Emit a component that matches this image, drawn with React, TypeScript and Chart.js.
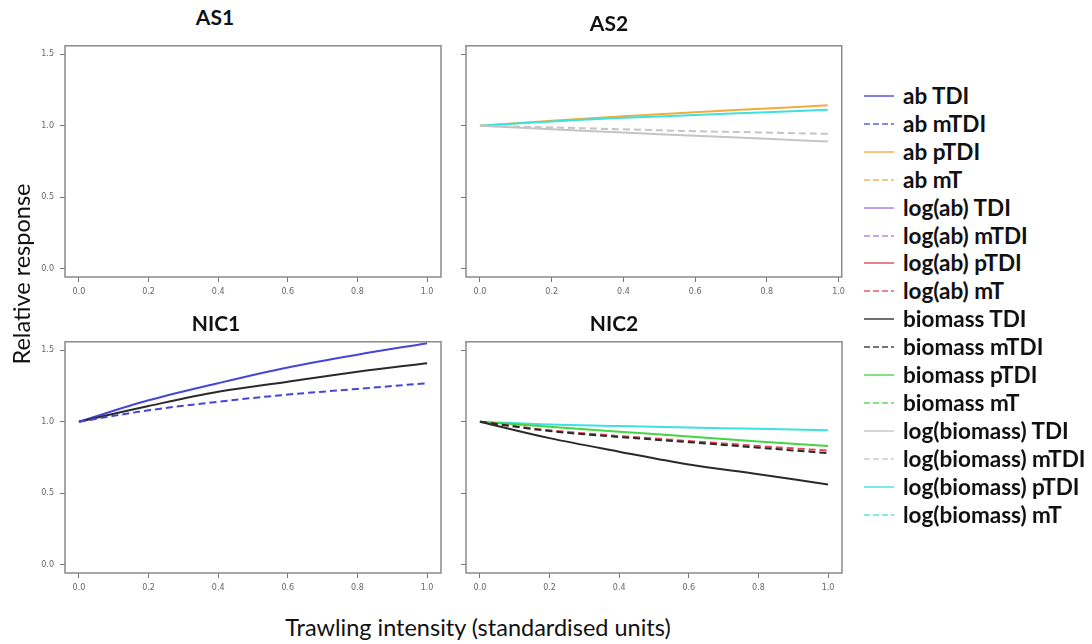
import React, { useEffect, useRef } from "react";
import { Chart, registerables } from "chart.js";
Chart.register(...registerables);

// ---------- data ----------
const xTickValues = [0, 0.2, 0.4, 0.6, 0.8, 1.0];
const yTickValues = [0, 0.5, 1.0, 1.5];

const nicX = [0, 0.2, 0.4, 0.6, 0.8, 1.0];
const as2X = [0, 0.2, 0.4, 0.6, 0.8, 0.97];

// AS2
const as2AbPTDI = [1.0, 1.035, 1.066, 1.095, 1.12, 1.143];
const as2LogBioPTDI = [1.0, 1.03, 1.055, 1.075, 1.095, 1.112];
const as2LogBioMTDI = [1.0, 0.988, 0.975, 0.962, 0.952, 0.943];
const as2LogBioTDI = [1.0, 0.975, 0.952, 0.93, 0.908, 0.889];

// NIC1
const nic1AbTDI = [1.0, 1.15, 1.27, 1.38, 1.47, 1.55];
const nic1BioTDI = [1.0, 1.11, 1.21, 1.28, 1.35, 1.41];
const nic1AbMTDI = [1.0, 1.08, 1.14, 1.19, 1.23, 1.27];

// NIC2
const nic2LogBioPTDI = [1.0, 0.98, 0.97, 0.959, 0.95, 0.94];
const nic2BioPTDI = [1.0, 0.965, 0.93, 0.897, 0.862, 0.83];
const nic2LogAbMT = [1.0, 0.94, 0.9, 0.865, 0.83, 0.797];
const nic2BioMTDI = [1.0, 0.935, 0.893, 0.857, 0.818, 0.78];
const nic2BioTDI = [1.0, 0.885, 0.79, 0.7, 0.632, 0.56];

const legendLabels = [
  "ab TDI", "ab mTDI", "ab pTDI", "ab mT",
  "log(ab) TDI", "log(ab) mTDI", "log(ab) pTDI", "log(ab) mT",
  "biomass TDI", "biomass mTDI", "biomass pTDI", "biomass mT",
  "log(biomass) TDI", "log(biomass) mTDI", "log(biomass) pTDI", "log(biomass) mT",
];

// ---------- styles ----------
const C_AB = "#4545d8";
const C_ABP = "#f0ad3c";
const C_LAB = "#a874dc";
const C_LABP = "#e04654";
const C_BIO = "#2a2a2a";
const C_BIOP = "#44d444";
const C_LBIO = "#c4c4c4";
const C_LBIOP = "#3ee0e0";
const legendColors = [C_AB, C_AB, C_ABP, C_ABP, C_LAB, C_LAB, C_LABP, C_LABP, C_BIO, C_BIO, C_BIOP, C_BIOP, C_LBIO, C_LBIO, C_LBIOP, C_LBIOP];
const DASH = [7, 4];

function pts(xs: number[], ys: number[]) {
  return xs.map((x, i) => ({ x, y: ys[i] }));
}

function ds(xs: number[], ys: number[], color: string, dashed: boolean) {
  return {
    data: pts(xs, ys),
    borderColor: color,
    borderWidth: 2,
    borderDash: dashed ? DASH : [],
    pointRadius: 0,
    tension: 0.35,
    fill: false,
  };
}

const boxPlugin = {
  id: "boxPlugin",
  afterDraw(chart: any) {
    const { ctx, chartArea } = chart;
    ctx.save();
    ctx.strokeStyle = "#8a8a8a";
    ctx.lineWidth = 1.5;
    ctx.strokeRect(chartArea.left, chartArea.top, chartArea.right - chartArea.left, chartArea.bottom - chartArea.top);
    ctx.restore();
  },
};

const Y_W = 40;
const X_H = 30;
const PAD_T = 6;
const PAD_R = 8;

type PanelProps = {
  box: [number, number, number, number];
  datasets: any[];
  xMin: number;
  xMax: number;
  showYLabels: boolean;
};

function Panel({ box, datasets, xMin, xMax, showYLabels }: PanelProps) {
  const ref = useRef<HTMLCanvasElement>(null);
  const [bl, bt, bw, bh] = box;
  const cw = bw + Y_W + PAD_R;
  const ch = bh + PAD_T + X_H;
  useEffect(() => {
    const tickFont = { family: "'DejaVu Sans', sans-serif", size: 8 };
    const chart = new Chart(ref.current as HTMLCanvasElement, {
      type: "line",
      data: { datasets },
      options: {
        animation: false,
        responsive: false,
        maintainAspectRatio: false,
        layout: { padding: { top: PAD_T, right: PAD_R, left: 0, bottom: 0 } },
        plugins: { legend: { display: false }, title: { display: false }, tooltip: { enabled: false } },
        scales: {
          x: {
            type: "linear",
            min: xMin,
            max: xMax,
            afterBuildTicks: (s: any) => { s.ticks = xTickValues.map((v) => ({ value: v })); },
            afterFit: (s: any) => { s.height = X_H; },
            ticks: { font: tickFont, color: "#666", padding: 5, maxRotation: 0, callback: (v: any) => Number(v).toFixed(1) },
            grid: { drawOnChartArea: false, drawTicks: true, tickLength: 5, color: "#777", lineWidth: 1 },
            border: { display: false },
          },
          y: {
            type: "linear",
            min: -0.06,
            max: 1.56,
            afterBuildTicks: (s: any) => { s.ticks = yTickValues.map((v) => ({ value: v })); },
            afterFit: (s: any) => { s.width = Y_W; },
            ticks: { font: tickFont, color: showYLabels ? "#666" : "rgba(0,0,0,0)", padding: 6, callback: (v: any) => Number(v).toFixed(1) },
            grid: { drawOnChartArea: false, drawTicks: true, tickLength: 5, color: "#777", lineWidth: 1 },
            border: { display: false },
          },
        },
      } as any,
      plugins: [boxPlugin],
    });
    return () => chart.destroy();
  }, []);
  return (
    <canvas
      ref={ref}
      width={cw}
      height={ch}
      style={{ position: "absolute", left: bl - Y_W, top: bt - PAD_T, width: cw, height: ch }}
    />
  );
}

const titleStyle = (cx: number, cy: number): React.CSSProperties => ({
  position: "absolute",
  left: cx - 60,
  top: cy - 14,
  width: 120,
  textAlign: "center",
  font: "bold 21px Lato, 'Open Sans', sans-serif",
  color: "#111",
  lineHeight: "28px",
});

export default function App() {
  const as2Sets = [
    ds(as2X, as2LogBioTDI, C_LBIO, false),
    ds(as2X, as2LogBioMTDI, C_LBIO, true),
    ds(as2X, as2LogBioPTDI, C_LBIOP, false),
    ds(as2X, as2AbPTDI, C_ABP, false),
  ];
  const nic1Sets = [
    ds(nicX, nic1AbMTDI, C_AB, true),
    ds(nicX, nic1BioTDI, C_BIO, false),
    ds(nicX, nic1AbTDI, C_AB, false),
  ];
  const nic2Sets = [
    ds(nicX, nic2BioTDI, C_BIO, false),
    ds(nicX, nic2BioMTDI, C_BIO, true),
    ds(nicX, nic2LogAbMT, C_LABP, true),
    ds(nicX, nic2BioPTDI, C_BIOP, false),
    ds(nicX, nic2LogBioPTDI, C_LBIOP, false),
  ];
  const as2Max = 0.97 * 1.04;
  const as2Min = -0.97 * 0.04;
  return (
    <div style={{ position: "fixed", left: 0, top: 0, width: 1092, height: 644, background: "#fff", overflow: "hidden" }}>
      <Panel box={[65, 41, 376, 236]} datasets={[]} xMin={-0.04} xMax={1.04} showYLabels={true} />
      <Panel box={[466, 41, 376, 236]} datasets={as2Sets} xMin={as2Min} xMax={as2Max} showYLabels={false} />
      <Panel box={[65, 337, 376, 236]} datasets={nic1Sets} xMin={-0.04} xMax={1.04} showYLabels={true} />
      <Panel box={[466, 337, 376, 236]} datasets={nic2Sets} xMin={-0.04} xMax={1.04} showYLabels={false} />

      <div style={titleStyle(215, 17)}>AS1</div>
      <div style={titleStyle(609, 23)}>AS2</div>
      <div style={titleStyle(216, 323)}>NIC1</div>
      <div style={titleStyle(614, 323)}>NIC2</div>

      <div
        style={{
          position: "absolute",
          left: 22 - 130,
          top: 274 - 15,
          width: 260,
          height: 30,
          lineHeight: "30px",
          textAlign: "center",
          transform: "rotate(-90deg)",
          font: "23.5px Lato, 'Open Sans', sans-serif",
          color: "#111",
        }}
      >
        Relative response
      </div>
      <div
        style={{
          position: "absolute",
          left: 478 - 250,
          top: 628 - 15,
          width: 500,
          lineHeight: "30px",
          textAlign: "center",
          font: "23.5px Lato, 'Open Sans', sans-serif",
          color: "#111",
        }}
      >
        Trawling intensity (standardised units)
      </div>

      {legendLabels.map((lab, i) => {
        const y = 96 + 27.9 * i;
        const dashed = i % 2 === 1;
        return (
          <div key={lab} style={{ position: "absolute", left: 862, top: y - 14, height: 28, display: "flex", alignItems: "center" }}>
            <svg width={34} height={6} style={{ display: "block" }}>
              <line x1={2} y1={3} x2={32} y2={3} stroke={legendColors[i]} strokeWidth={1.6} strokeDasharray={dashed ? "6 3" : undefined} opacity={0.85} />
            </svg>
            <span style={{ marginLeft: 7, font: "bold 22.5px Lato, 'Open Sans', sans-serif", color: "#111", whiteSpace: "nowrap", lineHeight: "28px" }}>{lab}</span>
          </div>
        );
      })}
    </div>
  );
}
